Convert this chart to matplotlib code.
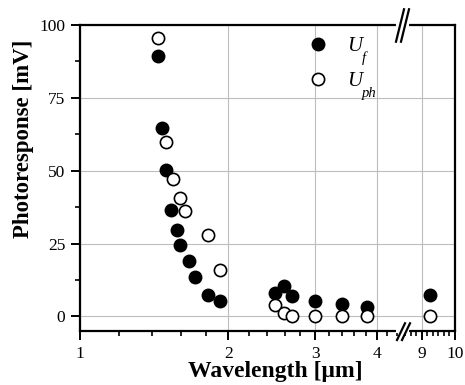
import matplotlib
matplotlib.use("Agg")
import matplotlib.pyplot as plt
from matplotlib.ticker import FixedLocator, MultipleLocator, NullFormatter, FixedFormatter
from matplotlib.lines import Line2D

plt.rcParams['font.family'] = ['Liberation Serif', 'DejaVu Serif']

# Data
uf_x = [1.44, 1.465, 1.492, 1.530, 1.574, 1.598, 1.667, 1.712, 1.819, 1.920,
        2.488, 2.590, 2.697, 3.0, 3.397, 3.82, 9.25]
uf_y = [89.4, 64.8, 50.1, 36.6, 29.7, 24.6, 19.1, 13.5, 7.4, 5.4,
        8.0, 10.3, 7.1, 5.3, 4.1, 3.2, 7.2]
uph_x = [1.442, 1.495, 1.542, 1.596, 1.630, 1.819, 1.920,
         2.483, 2.590, 2.697, 3.0, 3.397, 3.82, 9.25]
uph_y = [95.6, 60.0, 47.1, 40.6, 36.1, 27.8, 16.0,
         4.0, 1.2, 0.3, 0.2, 0.2, 0.2, 0.2]

yticks = [0, 25, 50, 75, 100]
xticks_left = [1, 2, 3, 4]
xticks_right = [9, 10]
legend_main = ['U', 'U']
legend_sub = ['f', 'ph']

W, H = 465, 385
fig = plt.figure(figsize=(W / 100, H / 100), dpi=100)
L, R, B, T, BRK = 80, 455, 331, 25, 400
axL = fig.add_axes([L / W, 1 - B / H, (BRK - L) / W, (B - T) / H])
axR = fig.add_axes([BRK / W, 1 - B / H, (R - BRK) / W, (B - T) / H], sharey=axL)

def pix(x, y):
    return (x / W, 1 - y / H)

ms = 8.8
def split(xs, ys, lo, hi):
    pts = [(x, y) for x, y in zip(xs, ys) if lo <= x <= hi]
    return [p[0] for p in pts], [p[1] for p in pts]

for ax, lo, hi in [(axL, 1, 4.46), (axR, 8.35, 10)]:
    x, y = split(uf_x, uf_y, lo, hi)
    ax.plot(x, y, 'o', ms=ms, mfc='black', mec='black', mew=1.2, zorder=5, clip_on=False)
    x, y = split(uph_x, uph_y, lo, hi)
    ax.plot(x, y, 'o', ms=ms, mfc='white', mec='black', mew=1.2, zorder=5, clip_on=False)

axL.set_xscale('log')
axL.set_xlim(1, 4.46)
axR.set_xlim(8.35, 10)
axL.set_ylim(-5, 100)

axL.xaxis.set_major_locator(FixedLocator(xticks_left))
axL.xaxis.set_major_formatter(FixedFormatter([str(v) for v in xticks_left]))
minorsL = [1.2, 1.4, 1.6, 1.8, 2.2, 2.4, 2.6, 2.8, 3.2, 3.4, 3.6, 3.8, 4.2, 4.4]
axL.xaxis.set_minor_locator(FixedLocator(minorsL))
axL.xaxis.set_minor_formatter(NullFormatter())
axR.xaxis.set_major_locator(FixedLocator(xticks_right))
axR.xaxis.set_major_formatter(FixedFormatter([str(v) for v in xticks_right]))
axR.xaxis.set_minor_locator(MultipleLocator(1 / 6))

axL.yaxis.set_major_locator(FixedLocator(yticks))
axL.yaxis.set_minor_locator(MultipleLocator(12.5))

lw = 1.6
for ax in (axL, axR):
    for s in ax.spines.values():
        s.set_linewidth(lw)
    ax.tick_params(which='major', direction='out', length=6.5, width=1.4, labelsize=12.5, pad=4)
    ax.tick_params(which='minor', direction='out', length=3.5, width=1.2)
    ax.tick_params(axis='x', which='both', top=False)
    ax.grid(True, which='major', color='#bdbdbd', lw=0.8)
    ax.set_axisbelow(True)

axL.spines['right'].set_visible(False)
axL.tick_params(axis='y', right=False)
axR.spines['left'].set_visible(False)
axR.tick_params(axis='y', which='both', left=False, right=False, labelleft=False)

fig.text(*pix(24, 139), 'Photoresponse [mV]', fontsize=16.5, fontweight='bold',
         rotation=90, ha='center', va='center')
fig.text(*pix(275.5, 371), 'Wavelength [μm]', fontsize=17, fontweight='bold',
         ha='center', va='center')

# legend (manual)
leg_y = [44.3, 79.0]
styles = [dict(mfc='black'), dict(mfc='white')]
for yy, st, main, sub in zip(leg_y, styles, legend_main, legend_sub):
    fig.add_artist(Line2D([pix(317.7, 0)[0]], [pix(0, yy)[1]], ls='none', marker='o',
                          ms=ms, mec='black', mew=1.2, zorder=12, **st))
    fig.text(*pix(347, yy + 7), main, fontsize=15, fontstyle='italic',
             ha='left', va='baseline', zorder=12)
    fig.text(*pix(362, yy + 18), sub, fontsize=10.5, fontstyle='italic',
             ha='left', va='baseline', zorder=12)

# break marks
for (ya, yb, ymid) in [(41.7, 9.3, T), (340, 323.3, B)]:
    fig.add_artist(Line2D([pix(398, 0)[0], pix(407, 0)[0]], [pix(0, ymid)[1]] * 2,
                          color='white', lw=3, zorder=10))
    for dx in (0, 5):
        if ymid == T:
            x0, x1 = 396 + dx, 404 + dx
        else:
            x0, x1 = 397 + dx, 405 + dx
        fig.add_artist(Line2D([pix(x0, 0)[0], pix(x1, 0)[0]],
                              [pix(0, ya)[1], pix(0, yb)[1]],
                              color='black', lw=1.6, zorder=11))

fig.savefig('out.png', dpi=100)
